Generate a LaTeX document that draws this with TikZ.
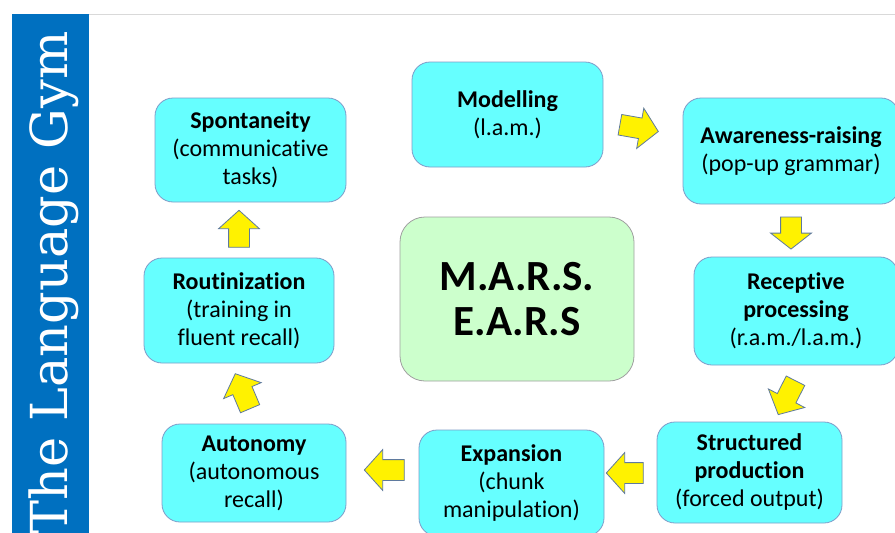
\documentclass[tikz,border=0pt]{standalone}
\usepackage{fontspec}
\setmainfont{Carlito}[Ligatures=NoCommon]
\newfontfamily\bannerfont{DejaVu Serif}
\usetikzlibrary{shapes.arrows}
\definecolor{boxcyan}{HTML}{66FFFF}
\definecolor{boxedge}{HTML}{7F9CC9}
\definecolor{marsgreen}{HTML}{CCFFCC}
\definecolor{marsedge}{HTML}{A0A0A0}
\definecolor{bannerblue}{HTML}{0070C0}
\definecolor{arrowedge}{HTML}{5F7A9E}
\definecolor{rulegray}{HTML}{D9D9D9}
\tikzset{
  stagebox/.style={draw=boxedge, fill=boxcyan, rounded corners=18pt, line width=0.8pt,
    align=center, inner sep=0pt, font=\fontsize{24}{28}\selectfont},
  blockarrow/.style={single arrow, draw=arrowedge, fill=yellow, line width=0.8pt,
    inner xsep=0pt, inner ysep=10pt, text height=0pt, text depth=0pt,
    minimum width=40pt, single arrow head extend=10pt,
    single arrow tip angle=96, minimum height=39pt},
}
\begin{document}
\begin{tikzpicture}[x=1pt,y=-1pt]
\useasboundingbox (0,0) rectangle (895,533);
\fill[white] (0,0) rectangle (895,533);
% banner and rule
\fill[bannerblue] (12,14) rectangle (89,533);
\draw[rulegray, line width=1pt] (89,14) -- (895,14);
\node[rotate=90, anchor=base west, text=white, inner sep=0pt,
  font=\bannerfont\fontsize{51}{51}\selectfont] (gym) at (67,535) {The Language Gym};
% stage boxes
\node[stagebox, minimum width=191pt, minimum height=105pt] (model) at (507.5,114.5)
  {\textbf{Modelling}\\(l.a.m.)};
\node[stagebox, minimum width=216pt, minimum height=106pt] (aware) at (791,151)
  {\textbf{Awareness-raising}\\(pop-up grammar)};
\node[stagebox, minimum width=204pt, minimum height=108pt] (recept) at (796,311)
  {\textbf{Receptive}\\\textbf{processing}\\(r.a.m./l.a.m.)};
\node[stagebox, minimum width=185pt, minimum height=101pt] (struct) at (749.5,472.5)
  {\textbf{Structured}\\\textbf{production}\\(forced output)};
\node[stagebox, minimum width=185pt, minimum height=106pt] (expan) at (511.5,483)
  {\textbf{Expansion}\\(chunk\\manipulation)};
\node[stagebox, minimum width=184pt, minimum height=98pt] (auton) at (254,473)
  {\textbf{Autonomy}\\(autonomous\\recall)};
\node[stagebox, minimum width=190pt, minimum height=105pt] (routin) at (239,310.5)
  {\textbf{Routinization}\\(training in\\fluent recall)};
\node[stagebox, minimum width=191pt, minimum height=104pt] (spont) at (250.5,150)
  {\textbf{Spontaneity}\\(communicative\\tasks)};
% centre box
\node[draw=marsedge, fill=marsgreen, rounded corners=25pt, line width=0.8pt,
  minimum width=234pt, minimum height=164pt, align=center, inner sep=0pt,
  font=\bfseries\fontsize{43}{45}\selectfont] (mars) at (517,299) {M.A.R.S.\\E.A.R.S};
% block arrows
\node[blockarrow, rotate=-10] (a1) at (634.5,127.3) {};
\node[blockarrow, rotate=-90, minimum height=32pt, single arrow tip angle=104] (a2) at (791,229) {};
\node[blockarrow, rotate=-117, minimum height=38pt] (a3) at (789,393.5) {};
\node[blockarrow, rotate=180, minimum height=37pt] (a4) at (629.5,473) {};
\node[blockarrow, rotate=180, minimum height=40pt] (a5) at (389,470) {};
\node[blockarrow, rotate=113, minimum height=38pt] (a6) at (244.5,395.5) {};
\node[blockarrow, rotate=90, minimum height=37pt] (a7) at (239,233.5) {};
\end{tikzpicture}
\end{document}
